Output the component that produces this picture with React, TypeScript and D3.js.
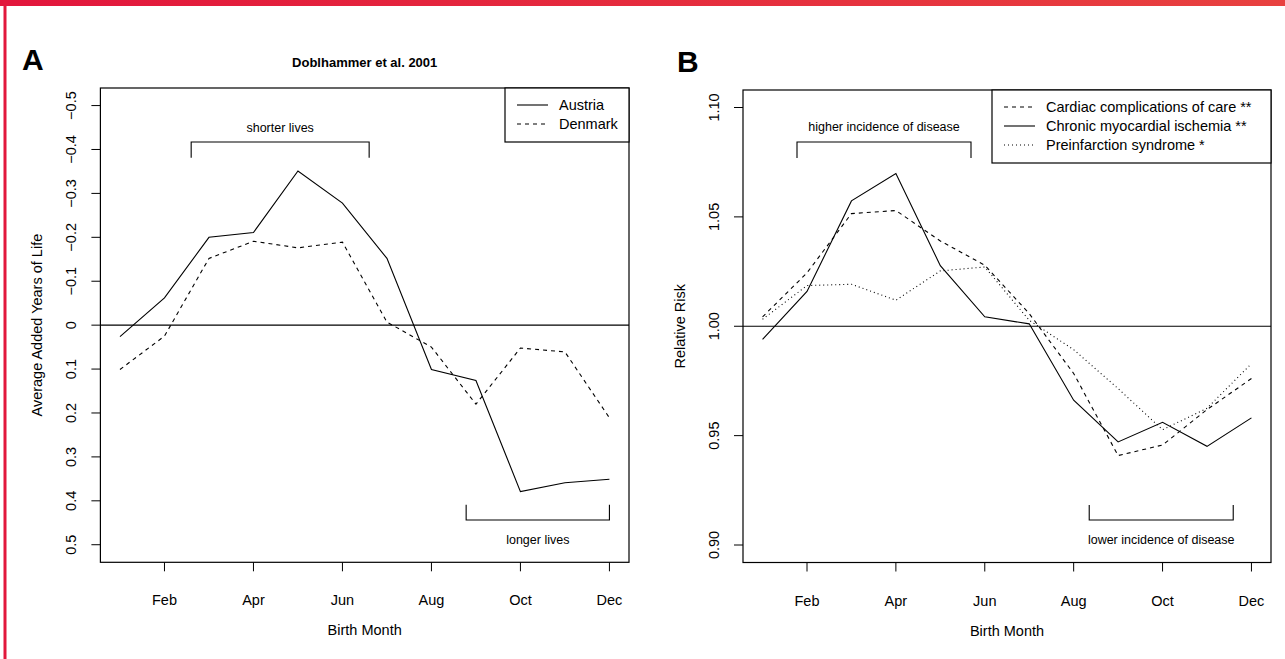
import React from "react";
import * as d3 from "d3";

const months = [1, 2, 3, 4, 5, 6, 7, 8, 9, 10, 11, 12];
const monthTicks = [2, 4, 6, 8, 10, 12];
const monthTickLabels = ["Feb", "Apr", "Jun", "Aug", "Oct", "Dec"];

const austria = [0.026, -0.062, -0.2, -0.211, -0.351, -0.278, -0.152, 0.101, 0.126, 0.379, 0.359, 0.351];
const denmark = [0.101, 0.025, -0.152, -0.191, -0.176, -0.189, -0.007, 0.05, 0.18, 0.052, 0.061, 0.211];

const cardiac = [1.0043, 1.0244, 1.0515, 1.0529, 1.039, 1.0279, 1.0058, 0.9784, 0.9409, 0.9457, 0.9619, 0.9761];
const chronic = [0.994, 1.0159, 1.0573, 1.0698, 1.0277, 1.0043, 1.0011, 0.9662, 0.9471, 0.9561, 0.9451, 0.9581];
const preinf = [1.0032, 1.0186, 1.0192, 1.0119, 1.0253, 1.0271, 1.0027, 0.9893, 0.9715, 0.9527, 0.9625, 0.9829];

const ticksA = [-0.5, -0.4, -0.3, -0.2, -0.1, 0, 0.1, 0.2, 0.3, 0.4, 0.5];
const tickLabelsA = ["\u22120.5", "\u22120.4", "\u22120.3", "\u22120.2", "\u22120.1", "0", "0.1", "0.2", "0.3", "0.4", "0.5"];
const ticksB = [0.9, 0.95, 1.0, 1.05, 1.1];
const tickLabelsB = ["0.90", "0.95", "1.00", "1.05", "1.10"];

const legendA = ["Austria", "Denmark"];
const legendB = ["Cardiac complications of care **", "Chronic myocardial ischemia **", "Preinfarction syndrome *"];

const FONT = "'Liberation Sans', Arial, Helvetica, sans-serif";

type Series = { values: number[]; dash: string };
type Bracket = { x1: number; x2: number; yLine: number; yTick: number; label: string; yLabel: number };

function Panel(props: {
  x0: number; x1: number; y0: number; y1: number;
  yDomain: [number, number];
  ticks: number[]; tickLabels: string[];
  zero: number;
  series: Series[];
  legend: string[]; legendDash: string[];
  legendW: number;
  brackets: Bracket[];
  yTitle: string;
}) {
  const { x0, x1, y0, y1 } = props;
  const x = d3.scaleLinear().domain([0.56, 12.44]).range([x0, x1]);
  const y = d3.scaleLinear().domain(props.yDomain).range([y0, y1]);
  const line = d3.line<number>().x((_, i) => x(months[i])).y((v) => y(v));
  const rowH = 19;
  const legH = props.legend.length * rowH + 16;
  const lx = x1 - props.legendW;
  return (
    <g fontFamily={FONT}>
      <rect x={x0} y={y0} width={x1 - x0} height={y1 - y0} fill="none" stroke="#000" strokeWidth={1.2} />
      {props.ticks.map((t, i) => (
        <g key={i}>
          <line x1={x0 - 9} x2={x0} y1={y(t)} y2={y(t)} stroke="#000" strokeWidth={1} />
          <text transform={`translate(${x0 - 24},${y(t)}) rotate(-90)`} textAnchor="middle" fontSize={14.5}>
            {props.tickLabels[i]}
          </text>
        </g>
      ))}
      {monthTicks.map((m, i) => (
        <g key={i}>
          <line x1={x(m)} x2={x(m)} y1={y1} y2={y1 + 9} stroke="#000" strokeWidth={1} />
          <text x={x(m)} y={y1 + 43} textAnchor="middle" fontSize={14.5}>{monthTickLabels[i]}</text>
        </g>
      ))}
      <text x={(x0 + x1) / 2} y={y1 + 73} textAnchor="middle" fontSize={14.5}>Birth Month</text>
      <text transform={`translate(${x0 - 58},${(y0 + y1) / 2}) rotate(-90)`} textAnchor="middle" fontSize={14.5}>
        {props.yTitle}
      </text>
      <line x1={x0} x2={x1} y1={y(props.zero)} y2={y(props.zero)} stroke="#000" strokeWidth={1.1} />
      {props.series.map((s, i) => (
        <path key={i} d={line(s.values) || ""} fill="none" stroke="#000" strokeWidth={1.1} strokeDasharray={s.dash} />
      ))}
      {props.brackets.map((b, i) => (
        <g key={i}>
          <path
            d={`M${x(b.x1)},${y(b.yTick)}L${x(b.x1)},${y(b.yLine)}L${x(b.x2)},${y(b.yLine)}L${x(b.x2)},${y(b.yTick)}`}
            fill="none" stroke="#000" strokeWidth={1.1}
          />
          <text x={(x(b.x1) + x(b.x2)) / 2} y={y(b.yLabel) + 4.5} textAnchor="middle" fontSize={12.5}>{b.label}</text>
        </g>
      ))}
      <rect x={lx} y={y0} width={props.legendW} height={legH} fill="#fff" stroke="#000" strokeWidth={1.2} />
      {props.legend.map((name, i) => {
        const ry = y0 + 17 + i * rowH;
        return (
          <g key={i}>
            <line x1={lx + 12} x2={lx + 43} y1={ry} y2={ry} stroke="#000" strokeWidth={1.1} strokeDasharray={props.legendDash[i]} />
            <text x={lx + 54} y={ry + 5} fontSize={14.5}>{name}</text>
          </g>
        );
      })}
    </g>
  );
}

export default function App() {
  return (
    <svg width={1285} height={659} style={{ position: "absolute", left: 0, top: 0, background: "#fff" }}>
      <defs>
        <linearGradient id="bar" x1="0" x2="1" y1="0" y2="0">
          <stop offset="0" stopColor="#e2163c" />
          <stop offset="1" stopColor="#e8413f" />
        </linearGradient>
      </defs>
      <rect x={0} y={0} width={1285} height={659} fill="#fff" />
      <rect x={0} y={0} width={1285} height={6} fill="url(#bar)" />
      <rect x={3.5} y={0} width={3} height={659} fill="#e2183c" />
      <text x={22} y={70} fontFamily={FONT} fontWeight="bold" fontSize={30}>A</text>
      <text x={677} y={72} fontFamily={FONT} fontWeight="bold" fontSize={30}>B</text>
      <text x={364.7} y={67} fontFamily={FONT} fontWeight="bold" fontSize={13} textAnchor="middle">Doblhammer et al. 2001</text>
      <Panel
        x0={100.4} x1={629} y0={88} y1={562.3}
        yDomain={[-0.54, 0.54]}
        ticks={ticksA} tickLabels={tickLabelsA} zero={0}
        series={[{ values: austria, dash: "" }, { values: denmark, dash: "4,4" }]}
        legend={legendA} legendDash={["", "4,4"]} legendW={124}
        brackets={[
          { x1: 2.6, x2: 6.6, yLine: -0.417, yTick: -0.381, label: "shorter lives", yLabel: -0.451 },
          { x1: 8.78, x2: 12, yLine: 0.4436, yTick: 0.409, label: "longer lives", yLabel: 0.489 },
        ]}
        yTitle="Average Added Years of Life"
      />
      <Panel
        x0={743} x1={1271} y0={90} y1={562.5}
        yDomain={[1.108, 0.892]}
        ticks={ticksB} tickLabels={tickLabelsB} zero={1.0}
        series={[{ values: cardiac, dash: "4,4" }, { values: chronic, dash: "" }, { values: preinf, dash: "1,3" }]}
        legend={legendB} legendDash={["4,4", "", "1,3"]} legendW={279}
        brackets={[
          { x1: 1.775, x2: 5.69, yLine: 1.0842, yTick: 1.0769, label: "higher incidence of disease", yLabel: 1.0911 },
          { x1: 8.35, x2: 11.59, yLine: 0.9114, yTick: 0.9183, label: "lower incidence of disease", yLabel: 0.9023 },
        ]}
        yTitle="Relative Risk"
      />
    </svg>
  );
}
